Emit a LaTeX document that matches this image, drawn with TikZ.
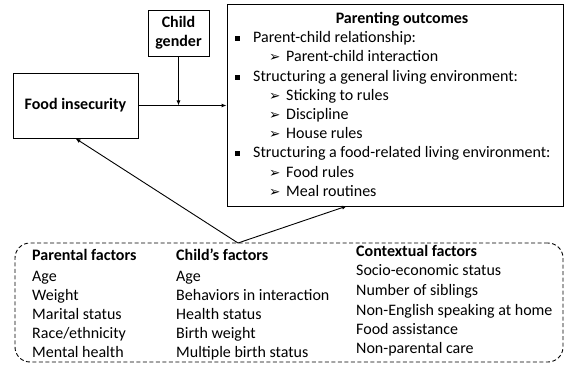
\documentclass[tikz,border=0pt]{standalone}
\usepackage{fontspec}
\setmainfont{Carlito}
\newfontfamily\symfont{DejaVu Sans}
\usetikzlibrary{arrows.meta}

\newcommand{\sqb}{\makebox[18pt][l]{\rule[2pt]{5pt}{5pt}}}
\newcommand{\arb}{\makebox[17pt][l]{{\symfont\fontsize{13.5}{13.5}\selectfont ➢}}}

\tikzset{
  box/.style={draw=black, line width=0.9pt, inner sep=0pt},
  txt/.style={anchor=base west, inner sep=0pt},
  bold/.style={font=\fontsize{16}{19}\selectfont\bfseries},
  link/.style={line width=0.9pt, -{Latex[length=5pt,width=4pt]}}
}

\begin{document}
\begin{tikzpicture}[x=1pt, y=-1pt, font=\fontsize{16}{19}\selectfont]
\useasboundingbox (0,0) rectangle (565,366);
% boxes
\node[box, bold, minimum width=61pt, minimum height=46pt, align=center] (gender) at (178.5,33) {Child\\gender};
\node[box, bold, minimum width=125pt, minimum height=65pt] (food) at (75.5,105.5) {Food insecurity};
\node[box, minimum width=336pt, minimum height=202pt] (outcomes) at (395,105) {};
\node[box, dash pattern=on 4pt off 2.5pt, rounded corners=15pt, minimum width=548pt, minimum height=119pt] (factors) at (289,302.5) {};
% parenting outcomes
\node[anchor=base, inner sep=0pt, bold] (title) at (402,24) {Parenting outcomes};
\node[txt] (o1) at (235,43) {\sqb Parent-child relationship:};
\node[txt] (o2) at (269,62) {\arb Parent-child interaction};
\node[txt] (o3) at (235,82) {\sqb Structuring a general living environment:};
\node[txt] (o4) at (269,101) {\arb Sticking to rules};
\node[txt] (o5) at (269,120) {\arb Discipline};
\node[txt] (o6) at (269,139) {\arb House rules};
\node[txt] (o7) at (235,158) {\sqb Structuring a food-related living environment:};
\node[txt] (o8) at (269,178) {\arb Food rules};
\node[txt] (o9) at (269,197) {\arb Meal routines};
% parental factors
\node[txt, bold] (p0) at (32,261) {Parental factors};
\node[txt] (p1) at (32,281) {Age};
\node[txt] (p2) at (32,300) {Weight};
\node[txt] (p3) at (32,319) {Marital status};
\node[txt] (p4) at (32,338) {Race/ethnicity};
\node[txt] (p5) at (32,357) {Mental health};
% child's factors
\node[txt, bold] (c0) at (176,261) {Child’s factors};
\node[txt] (c1) at (176,281) {Age};
\node[txt] (c2) at (176,300) {Behaviors in interaction};
\node[txt] (c3) at (176,319) {Health status};
\node[txt] (c4) at (176,338) {Birth weight};
\node[txt] (c5) at (176,357) {Multiple birth status};
% contextual factors
\node[txt, bold] (x0) at (356,257) {Contextual factors};
\node[txt] (x1) at (356,276) {Socio-economic status};
\node[txt] (x2) at (356,295) {Number of siblings};
\node[txt] (x3) at (356,315) {Non-English speaking at home};
\node[txt] (x4) at (356,334) {Food assistance};
\node[txt] (x5) at (356,353) {Non-parental care};
% connectors
\coordinate (mid) at (gender.south |- food.east);
\coordinate (apex) at (238,243);
\coordinate (tip) at (347,206);
\draw[link] (food.east) -- (food.east -| outcomes.west);
\draw[link] (gender.south) -- (mid);
\draw[link] (apex) -- (food.south);
\draw[link] (apex) -- (tip);
\end{tikzpicture}
\end{document}
